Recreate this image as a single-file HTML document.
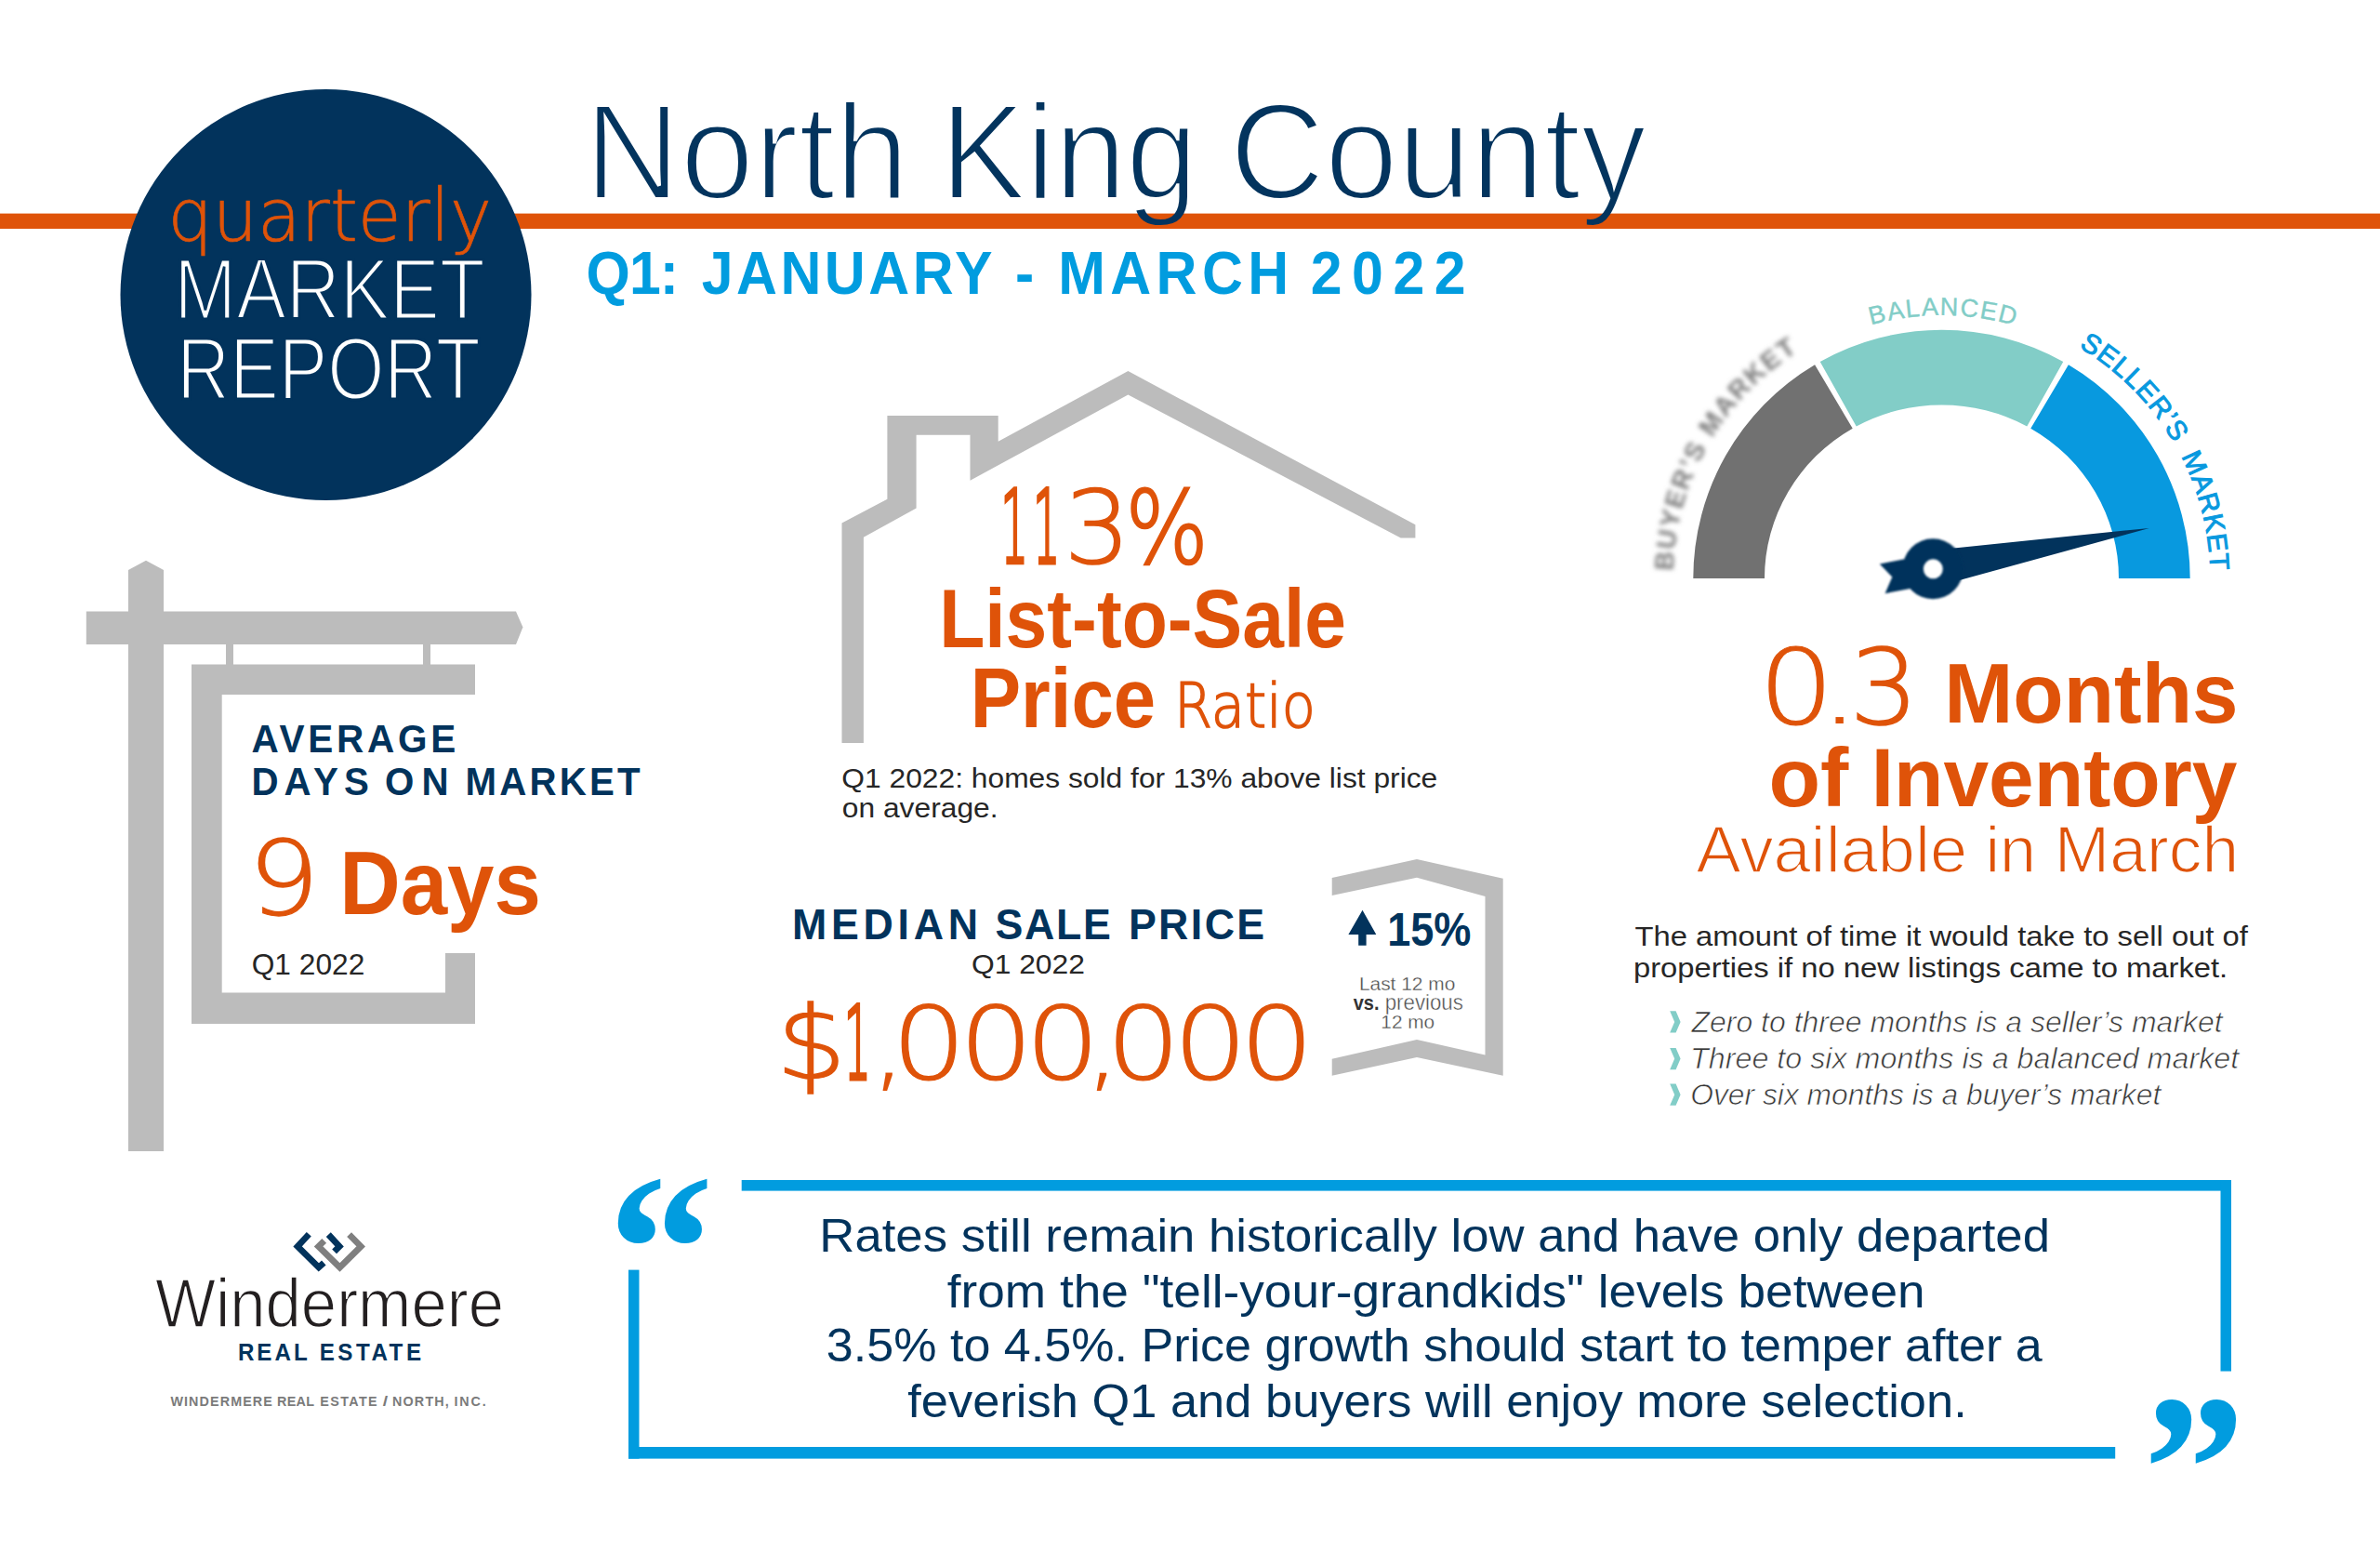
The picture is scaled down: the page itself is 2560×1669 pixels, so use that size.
<!DOCTYPE html>
<html><head><meta charset="utf-8"><title>North King County Quarterly Market Report</title>
<style>html,body{margin:0;padding:0;background:#fff;width:2560px;height:1669px;overflow:hidden}svg{display:block}</style>
</head><body>
<svg width="2560" height="1669" viewBox="0 0 2560 1669">
<defs><filter id="bl1" x="-20%" y="-20%" width="140%" height="140%"><feGaussianBlur stdDeviation="1.2"/></filter><filter id="bl2" x="-20%" y="-20%" width="140%" height="140%"><feGaussianBlur stdDeviation="2.4"/></filter><mask id="m_title" maskUnits="userSpaceOnUse" x="0" y="0" width="2560" height="1669"><text x="628.76" y="213.6" font-family="Liberation Sans" font-weight="400" font-size="146.76" textLength="348.95" lengthAdjust="spacingAndGlyphs" fill="#ffffff" stroke="#000000" stroke-width="4.19">North</text></mask><mask id="m_title2" maskUnits="userSpaceOnUse" x="0" y="0" width="2560" height="1669"><text x="1011.51" y="213.6" font-family="Liberation Sans" font-weight="400" font-size="146.76" textLength="276.64" lengthAdjust="spacingAndGlyphs" fill="#ffffff" stroke="#000000" stroke-width="3.78">King</text></mask><mask id="m_title3" maskUnits="userSpaceOnUse" x="0" y="0" width="2560" height="1669"><text x="1322.73" y="213.6" font-family="Liberation Sans" font-weight="400" font-size="146.76" textLength="448.31" lengthAdjust="spacingAndGlyphs" fill="#ffffff" stroke="#000000" stroke-width="4.08">County</text></mask></defs>
<rect width="2560" height="1669" fill="#ffffff"/>
<rect x="0" y="229.6" width="2560" height="16.4" fill="#df5309"/>
<circle cx="350.5" cy="317" r="221" fill="#02335c"/>
<polygon points="138.0,613.0 157.0,602.8 176.0,613.0 176.0,1238.0 138.0,1238.0" fill="#bcbcbc"/>
<polygon points="92.8,657.5 555.0,657.5 562.4,674.5 555.0,693.0 92.8,693.0" fill="#bcbcbc"/>
<rect x="243" y="692" width="8" height="24" fill="#bcbcbc"/>
<rect x="455" y="692" width="8" height="24" fill="#bcbcbc"/>
<polygon points="206.0,714.5 511.0,714.5 511.0,747.0 238.7,747.0 238.7,1067.5 479.0,1067.5 479.0,1025.0 511.0,1025.0 511.0,1101.0 206.0,1101.0" fill="#bcbcbc"/>
<polygon points="905.5,798.9 905.5,562.6 954.4,536.8 954.4,447.0 1073.7,447.0 1073.7,474.8 1213.4,399.1 1522.4,564.3 1522.4,578.4 1506.7,578.4 1213.4,424.6 1043.5,516.7 1043.5,467.8 985.6,467.8 985.6,546.5 928.9,577.7 928.9,798.9" fill="#bcbcbc"/>
<polygon points="1432.7,944.1 1524.0,924.1 1616.7,944.8 1616.7,1156.7 1524.0,1137.1 1432.7,1156.7 1432.7,1138.8 1524.0,1118.1 1597.5,1134.6 1597.5,963.9 1524.0,943.8 1432.7,963.1" fill="#bcbcbc"/>
<polygon points="1465.5,978.7 1480.3,1005.0 1469.6,1005.0 1469.6,1016.7 1461.2,1016.7 1461.2,1005.0 1450.4,1005.0" fill="#02335c"/>
<path d="M1821.30,622.00 A267.2,267.2 0 0 1 1952.08,392.25 L1992.73,460.70 A190.5,186.6 0 0 0 1898.00,622.00 Z" fill="#717171"/>
<path d="M1957.74,388.98 A267.2,267.2 0 0 1 2219.26,388.98 L2180.27,458.48 A190.5,186.6 0 0 0 1996.73,458.48 Z" fill="#82cdc7"/>
<path d="M2224.92,392.25 A267.2,267.2 0 0 1 2355.70,622.00 L2279.00,622.00 A190.5,186.6 0 0 0 2184.27,460.70 Z" fill="#0899df"/>
<polygon points="2079.0,594.0 2101.8,589.4 2311.8,567.9 2109.4,623.5 2079.0,630.0" fill="#02335c"/>
<g filter="url(#bl1)"><polygon points="2055.0,600.0 2021.8,606.5 2035.3,620.5 2027.6,638.2 2060.0,632.0" fill="#02335c"/><circle cx="2079.1" cy="611.8" r="32.5" fill="#02335c"/></g>
<circle cx="2079.3" cy="611.8" r="10.5" fill="#ffffff" filter="url(#bl1)"/>
<rect x="797.7" y="1269" width="1602.3" height="11.6" fill="#019cdf"/>
<rect x="2388.5" y="1269" width="11.5" height="205.6" fill="#019cdf"/>
<rect x="676" y="1365.6" width="11.5" height="203" fill="#019cdf"/>
<rect x="676" y="1556" width="1599.2" height="12.6" fill="#019cdf"/>
<path id="arcB" d="M1822.57,718.79 A283,283 0 1 1 2354.43,718.79" fill="none"/>
<path id="arcS" d="M1816.93,720.84 A289,289 0 1 1 2360.07,720.84" fill="none"/>
<path id="arcY" d="M1816.93,720.84 A289,289 0 1 1 2360.07,720.84" fill="none"/>
<text font-family="Liberation Sans" font-weight="400" font-size="27" fill="#82cdc7" stroke="#82cdc7" stroke-width="0.4" letter-spacing="1.6" text-anchor="middle"><textPath href="#arcB" startOffset="50.182%">BALANCED</textPath></text>
<text font-family="Liberation Sans" font-weight="400" font-size="29.5" fill="#0899df" stroke="#0899df" stroke-width="1.0" letter-spacing="1.0" word-spacing="6" text-anchor="middle"><textPath href="#arcS" startOffset="77.091%">SELLER’S MARKET</textPath></text>
<g filter="url(#bl2)"><text font-family="Liberation Sans" font-weight="700" font-size="28.5" fill="#7a7a7a" letter-spacing="2.0" text-anchor="middle"><textPath href="#arcY" startOffset="22.636%">BUYER’S MARKET</textPath></text></g>
<text x="653.80" y="1420.11" font-family="Liberation Serif" font-weight="700" font-size="228.48" fill="#019cdf" textLength="114.13" lengthAdjust="spacingAndGlyphs">“</text>
<text x="2305.56" y="1656.45" font-family="Liberation Serif" font-weight="700" font-size="227.20" fill="#019cdf" textLength="109.37" lengthAdjust="spacingAndGlyphs">”</text>
<polygon points="1796.2,1087.3 1802.6,1087.3 1807.6,1098.9 1802.6,1110.5 1796.2,1110.5 1801.2,1098.9" fill="#82cdc7"/>
<polygon points="1796.2,1127.0 1802.6,1127.0 1807.6,1138.6 1802.6,1150.2 1796.2,1150.2 1801.2,1138.6" fill="#82cdc7"/>
<polygon points="1796.2,1165.6 1802.6,1165.6 1807.6,1177.2 1802.6,1188.8 1796.2,1188.8 1801.2,1177.2" fill="#82cdc7"/>
<polyline points="332.3,1327.2 320.1,1340.4 342.8,1362.9 348.3,1357.9" fill="none" stroke="#02335c" stroke-width="6.8" stroke-linejoin="miter"/>
<polyline points="353.3,1327.6 365.1,1340.4 359.6,1345.9" fill="none" stroke="#02335c" stroke-width="6.8" stroke-linejoin="miter"/>
<polyline points="348.7,1334.3 342.6,1340.4 365.5,1362.9 388.2,1340.4 375.6,1327.6" fill="none" stroke="#7f7f7f" stroke-width="6.8" stroke-linejoin="miter"/>
<text x="180.41" y="258.6" font-family="DejaVu Sans" font-weight="200" font-size="78.68" textLength="348.64" lengthAdjust="spacingAndGlyphs" fill="#df5309" stroke="#df5309" stroke-width="0.72">quarterly</text>
<text x="187.27" y="343.4" font-family="Liberation Sans" font-weight="400" font-size="92.24" textLength="334.66" lengthAdjust="spacingAndGlyphs" fill="#ffffff" stroke="#02335c" stroke-width="3.11">MARKET</text>
<text x="190.37" y="429" font-family="Liberation Sans" font-weight="400" font-size="93.84" textLength="326.45" lengthAdjust="spacingAndGlyphs" fill="#ffffff" stroke="#02335c" stroke-width="2.96">REPORT</text>
<text x="628.76" y="213.6" font-family="Liberation Sans" font-weight="400" font-size="146.76" textLength="348.95" lengthAdjust="spacingAndGlyphs" fill="#03345e" mask="url(#m_title)">North</text>
<text x="1011.51" y="213.6" font-family="Liberation Sans" font-weight="400" font-size="146.76" textLength="276.64" lengthAdjust="spacingAndGlyphs" fill="#03345e" mask="url(#m_title2)">King</text>
<text x="1322.73" y="213.6" font-family="Liberation Sans" font-weight="400" font-size="146.76" textLength="448.31" lengthAdjust="spacingAndGlyphs" fill="#03345e" mask="url(#m_title3)">County</text>
<text x="630.60" y="316.1" font-family="Liberation Sans" font-weight="700" font-size="64.00" textLength="98.34" lengthAdjust="spacingAndGlyphs" letter-spacing="-1.06" fill="#019cdf">Q1:</text>
<text x="754.70" y="316.1" font-family="Liberation Sans" font-weight="700" font-size="64.00" textLength="316.27" lengthAdjust="spacingAndGlyphs" letter-spacing="3.70" fill="#019cdf">JANUARY</text>
<text x="1092.01" y="316.1" font-family="Liberation Sans" font-weight="700" font-size="64.00" textLength="20.18" lengthAdjust="spacingAndGlyphs" fill="#019cdf">-</text>
<text x="1138.30" y="316.1" font-family="Liberation Sans" font-weight="700" font-size="64.00" textLength="253.19" lengthAdjust="spacingAndGlyphs" letter-spacing="5.67" fill="#019cdf">MARCH</text>
<text x="1409.80" y="316.1" font-family="Liberation Sans" font-weight="700" font-size="64.00" textLength="177.20" lengthAdjust="spacingAndGlyphs" letter-spacing="11.04" fill="#019cdf">2022</text>
<text x="270.47" y="809.2" font-family="Liberation Sans" font-weight="700" font-size="42.67" textLength="223.53" lengthAdjust="spacingAndGlyphs" letter-spacing="3.92" fill="#02335c">AVERAGE</text>
<text x="270.38" y="854.7" font-family="Liberation Sans" font-weight="700" font-size="42.38" textLength="132.71" lengthAdjust="spacingAndGlyphs" letter-spacing="6.46" fill="#02335c">DAYS</text>
<text x="414.04" y="854.7" font-family="Liberation Sans" font-weight="700" font-size="42.38" textLength="76.83" lengthAdjust="spacingAndGlyphs" letter-spacing="8.65" fill="#02335c">ON</text>
<text x="500.58" y="854.7" font-family="Liberation Sans" font-weight="700" font-size="42.38" textLength="191.13" lengthAdjust="spacingAndGlyphs" letter-spacing="3.32" fill="#02335c">MARKET</text>
<text x="266.54" y="982.9" font-family="DejaVu Sans" font-weight="200" font-size="109.68" textLength="77.39" lengthAdjust="spacingAndGlyphs" fill="#df5309" stroke="#df5309" stroke-width="1.28">9</text>
<text x="365.24" y="982.9" font-family="Liberation Sans" font-weight="700" font-size="96.00" textLength="216.64" lengthAdjust="spacingAndGlyphs" fill="#df5309">Days</text>
<text x="270.71" y="1048" font-family="Liberation Sans" font-weight="400" font-size="30.44" textLength="121.57" lengthAdjust="spacingAndGlyphs" fill="#262626">Q1 2022</text>
<text x="1076.42" y="605.3" font-family="DejaVu Sans" font-weight="200" font-size="108.98" textLength="29.36" lengthAdjust="spacingAndGlyphs" fill="#df5309" stroke="#df5309" stroke-width="4.73">1</text>
<text x="1111.32" y="605.3" font-family="DejaVu Sans" font-weight="200" font-size="108.98" textLength="28.85" lengthAdjust="spacingAndGlyphs" fill="#df5309" stroke="#df5309" stroke-width="4.77">1</text>
<text x="1144.46" y="605.3" font-family="DejaVu Sans" font-weight="200" font-size="108.98" textLength="71.66" lengthAdjust="spacingAndGlyphs" fill="#df5309" stroke="#df5309" stroke-width="1.61">3</text>
<text x="1210.58" y="605.3" font-family="DejaVu Sans" font-weight="200" font-size="108.98" textLength="89.17" lengthAdjust="spacingAndGlyphs" fill="#df5309" stroke="#df5309" stroke-width="2.49">%</text>
<text x="1010.17" y="696.1" font-family="Liberation Sans" font-weight="700" font-size="89.60" textLength="437.83" lengthAdjust="spacingAndGlyphs" fill="#df5309">List-to-Sale</text>
<text x="1043.71" y="781.6" font-family="Liberation Sans" font-weight="700" font-size="90.45" textLength="199.32" lengthAdjust="spacingAndGlyphs" fill="#df5309">Price</text>
<text x="1263.04" y="781.6" font-family="DejaVu Sans" font-weight="200" font-size="66.16" textLength="151.78" lengthAdjust="spacingAndGlyphs" fill="#df5309" stroke="#df5309" stroke-width="1.62">Ratio</text>
<text x="905.31" y="846.6" font-family="Liberation Sans" font-weight="400" font-size="30.29" textLength="640.98" lengthAdjust="spacingAndGlyphs" fill="#262626">Q1 2022: homes sold for 13% above list price</text>
<text x="905.81" y="879.3" font-family="Liberation Sans" font-weight="400" font-size="30.29" textLength="167.78" lengthAdjust="spacingAndGlyphs" fill="#262626">on average.</text>
<text x="852.10" y="1010.2" font-family="Liberation Sans" font-weight="700" font-size="47.08" textLength="204.65" lengthAdjust="spacingAndGlyphs" letter-spacing="4.96" fill="#02335c">MEDIAN</text>
<text x="1070.40" y="1010.2" font-family="Liberation Sans" font-weight="700" font-size="47.08" textLength="126.08" lengthAdjust="spacingAndGlyphs" letter-spacing="1.79" fill="#02335c">SALE</text>
<text x="1213.90" y="1010.2" font-family="Liberation Sans" font-weight="700" font-size="47.08" textLength="148.67" lengthAdjust="spacingAndGlyphs" letter-spacing="2.53" fill="#02335c">PRICE</text>
<text x="1044.91" y="1047" font-family="Liberation Sans" font-weight="400" font-size="30.15" textLength="121.98" lengthAdjust="spacingAndGlyphs" fill="#262626">Q1 2022</text>
<text x="908.05" y="1160.4" font-family="DejaVu Sans" font-weight="200" font-size="108.60" textLength="28.51" lengthAdjust="spacingAndGlyphs" fill="#df5309" stroke="#df5309" stroke-width="4.89">1</text>
<text x="834.89" y="1160.4" font-family="DejaVu Sans" font-weight="200" font-size="108.60" textLength="75.79" lengthAdjust="spacingAndGlyphs" fill="#df5309" stroke="#df5309" stroke-width="1.40">$</text>
<text x="932.76" y="1160.4" font-family="DejaVu Sans" font-weight="200" font-size="108.60" textLength="46.98" lengthAdjust="spacingAndGlyphs" fill="#df5309" stroke="#df5309" stroke-width="0.05">,</text>
<text x="959.06" y="1160.4" font-family="DejaVu Sans" font-weight="200" font-size="108.60" textLength="80.41" lengthAdjust="spacingAndGlyphs" fill="#df5309" stroke="#df5309" stroke-width="1.06">0</text>
<text x="1031.70" y="1160.4" font-family="DejaVu Sans" font-weight="200" font-size="108.60" textLength="79.50" lengthAdjust="spacingAndGlyphs" fill="#df5309" stroke="#df5309" stroke-width="1.13">0</text>
<text x="1102.66" y="1160.4" font-family="DejaVu Sans" font-weight="200" font-size="108.60" textLength="80.41" lengthAdjust="spacingAndGlyphs" fill="#df5309" stroke="#df5309" stroke-width="1.06">0</text>
<text x="1162.58" y="1160.4" font-family="DejaVu Sans" font-weight="200" font-size="108.60" textLength="48.01" lengthAdjust="spacingAndGlyphs" fill="#df5309">,</text>
<text x="1189.88" y="1160.4" font-family="DejaVu Sans" font-weight="200" font-size="108.60" textLength="80.25" lengthAdjust="spacingAndGlyphs" fill="#df5309" stroke="#df5309" stroke-width="1.07">0</text>
<text x="1262.05" y="1160.4" font-family="DejaVu Sans" font-weight="200" font-size="108.60" textLength="79.80" lengthAdjust="spacingAndGlyphs" fill="#df5309" stroke="#df5309" stroke-width="1.10">0</text>
<text x="1333.45" y="1160.4" font-family="DejaVu Sans" font-weight="200" font-size="108.60" textLength="79.80" lengthAdjust="spacingAndGlyphs" fill="#df5309" stroke="#df5309" stroke-width="1.10">0</text>
<text x="1492.28" y="1017.1" font-family="Liberation Sans" font-weight="700" font-size="50.77" textLength="90.15" lengthAdjust="spacingAndGlyphs" fill="#02335c">15%</text>
<text x="1461.92" y="1065.4" font-family="Liberation Sans" font-weight="400" font-size="19.84" textLength="103.38" lengthAdjust="spacingAndGlyphs" fill="#4a4a4a" stroke="#ffffff" stroke-width="0.30">Last 12 mo</text>
<text x="1455.80" y="1086" font-family="Liberation Sans" font-weight="700" font-size="22.59" textLength="27.68" lengthAdjust="spacingAndGlyphs" fill="#333333">vs.</text>
<text x="1489.69" y="1086" font-family="Liberation Sans" font-weight="400" font-size="22.99" textLength="84.22" lengthAdjust="spacingAndGlyphs" fill="#4a4a4a" stroke="#ffffff" stroke-width="0.43">previous</text>
<text x="1485.36" y="1106" font-family="Liberation Sans" font-weight="400" font-size="20.11" textLength="57.62" lengthAdjust="spacingAndGlyphs" fill="#4a4a4a" stroke="#ffffff" stroke-width="0.29">12 mo</text>
<text x="1891.41" y="777.5" font-family="DejaVu Sans" font-weight="200" font-size="112.00" textLength="81.31" lengthAdjust="spacingAndGlyphs" fill="#df5309" stroke="#df5309" stroke-width="0.99">0</text>
<text x="1952.10" y="777.5" font-family="DejaVu Sans" font-weight="200" font-size="112.00" textLength="53.40" lengthAdjust="spacingAndGlyphs" fill="#df5309">.</text>
<text x="1989.21" y="777.5" font-family="DejaVu Sans" font-weight="200" font-size="112.00" textLength="74.67" lengthAdjust="spacingAndGlyphs" fill="#df5309" stroke="#df5309" stroke-width="1.48">3</text>
<text x="2091.24" y="777" font-family="Liberation Sans" font-weight="700" font-size="91.02" textLength="316.37" lengthAdjust="spacingAndGlyphs" fill="#df5309">Months</text>
<text x="2012.63" y="867.4" font-family="Liberation Sans" font-weight="700" font-size="88.89" textLength="393.91" lengthAdjust="spacingAndGlyphs" fill="#df5309">Inventory</text>
<text x="1902.45" y="867.4" font-family="Liberation Sans" font-weight="700" font-size="88.89" textLength="85.97" lengthAdjust="spacingAndGlyphs" fill="#df5309">of</text>
<text x="1824.57" y="937.9" font-family="Liberation Sans" font-weight="400" font-size="71.16" textLength="291.59" lengthAdjust="spacingAndGlyphs" fill="#df5309" stroke="#ffffff" stroke-width="1.67">Available</text>
<text x="2135.47" y="937.9" font-family="Liberation Sans" font-weight="400" font-size="71.16" textLength="54.61" lengthAdjust="spacingAndGlyphs" fill="#df5309" stroke="#ffffff" stroke-width="1.48">in</text>
<text x="2209.83" y="937.9" font-family="Liberation Sans" font-weight="400" font-size="71.16" textLength="198.28" lengthAdjust="spacingAndGlyphs" fill="#df5309" stroke="#ffffff" stroke-width="1.59">March</text>
<text x="1758.49" y="1017" font-family="Liberation Sans" font-weight="400" font-size="29.87" textLength="659.40" lengthAdjust="spacingAndGlyphs" fill="#262626">The amount of time it would take to sell out of</text>
<text x="1756.95" y="1051" font-family="Liberation Sans" font-weight="400" font-size="29.87" textLength="639.30" lengthAdjust="spacingAndGlyphs" fill="#262626">properties if no new listings came to market.</text>
<text x="1819.45" y="1109.7" font-family="Liberation Sans" font-weight="400" font-style="italic" font-size="31.93" textLength="571.29" lengthAdjust="spacingAndGlyphs" fill="#363636" stroke="#ffffff" stroke-width="0.70">Zero to three months is a seller’s market</text>
<text x="1818.03" y="1149.4" font-family="Liberation Sans" font-weight="400" font-style="italic" font-size="31.93" textLength="590.20" lengthAdjust="spacingAndGlyphs" fill="#363636" stroke="#ffffff" stroke-width="0.70">Three to six months is a balanced market</text>
<text x="1818.16" y="1188" font-family="Liberation Sans" font-weight="400" font-style="italic" font-size="31.93" textLength="506.09" lengthAdjust="spacingAndGlyphs" fill="#363636" stroke="#ffffff" stroke-width="0.70">Over six months is a buyer’s market</text>
<text x="166.97" y="1426.8" font-family="Liberation Sans" font-weight="400" font-size="74.71" textLength="374.96" lengthAdjust="spacingAndGlyphs" fill="#231f20" stroke="#ffffff" stroke-width="1.47">Windermere</text>
<text x="255.89" y="1462.9" font-family="Liberation Sans" font-weight="700" font-size="25.46" textLength="77.95" lengthAdjust="spacingAndGlyphs" letter-spacing="3.19" fill="#02335c">REAL</text>
<text x="343.69" y="1462.9" font-family="Liberation Sans" font-weight="700" font-size="25.46" textLength="112.86" lengthAdjust="spacingAndGlyphs" letter-spacing="3.69" fill="#02335c">ESTATE</text>
<text x="183.40" y="1511.8" font-family="Liberation Sans" font-weight="700" font-size="15.08" textLength="110.59" lengthAdjust="spacingAndGlyphs" letter-spacing="1.17" fill="#7b7b7b">WINDERMERE</text>
<text x="298.10" y="1511.8" font-family="Liberation Sans" font-weight="700" font-size="15.08" textLength="40.26" lengthAdjust="spacingAndGlyphs" letter-spacing="0.33" fill="#7b7b7b">REAL</text>
<text x="344.30" y="1511.8" font-family="Liberation Sans" font-weight="700" font-size="15.08" textLength="62.77" lengthAdjust="spacingAndGlyphs" letter-spacing="1.47" fill="#7b7b7b">ESTATE</text>
<text x="411.80" y="1511.8" font-family="Liberation Sans" font-weight="700" font-size="15.08" textLength="5.43" lengthAdjust="spacingAndGlyphs" fill="#7b7b7b">/</text>
<text x="422.00" y="1511.8" font-family="Liberation Sans" font-weight="700" font-size="15.08" textLength="62.03" lengthAdjust="spacingAndGlyphs" letter-spacing="1.25" fill="#7b7b7b">NORTH,</text>
<text x="488.50" y="1511.8" font-family="Liberation Sans" font-weight="700" font-size="15.08" textLength="35.97" lengthAdjust="spacingAndGlyphs" letter-spacing="1.93" fill="#7b7b7b">INC.</text>
<text x="881.38" y="1346.3" font-family="Liberation Sans" font-weight="400" font-size="50.49" textLength="1323.57" lengthAdjust="spacingAndGlyphs" fill="#02335c">Rates still remain historically low and have only departed</text>
<text x="1018.80" y="1406.2" font-family="Liberation Sans" font-weight="400" font-size="50.49" textLength="1051.79" lengthAdjust="spacingAndGlyphs" fill="#02335c">from the &quot;tell-your-grandkids&quot; levels between</text>
<text x="888.87" y="1464.2" font-family="Liberation Sans" font-weight="400" font-size="50.49" textLength="1307.80" lengthAdjust="spacingAndGlyphs" fill="#02335c">3.5% to 4.5%. Price growth should start to temper after a</text>
<text x="976.30" y="1524" font-family="Liberation Sans" font-weight="400" font-size="50.49" textLength="1139.44" lengthAdjust="spacingAndGlyphs" fill="#02335c">feverish Q1 and buyers will enjoy more selection.</text>
</svg>
</body></html>
